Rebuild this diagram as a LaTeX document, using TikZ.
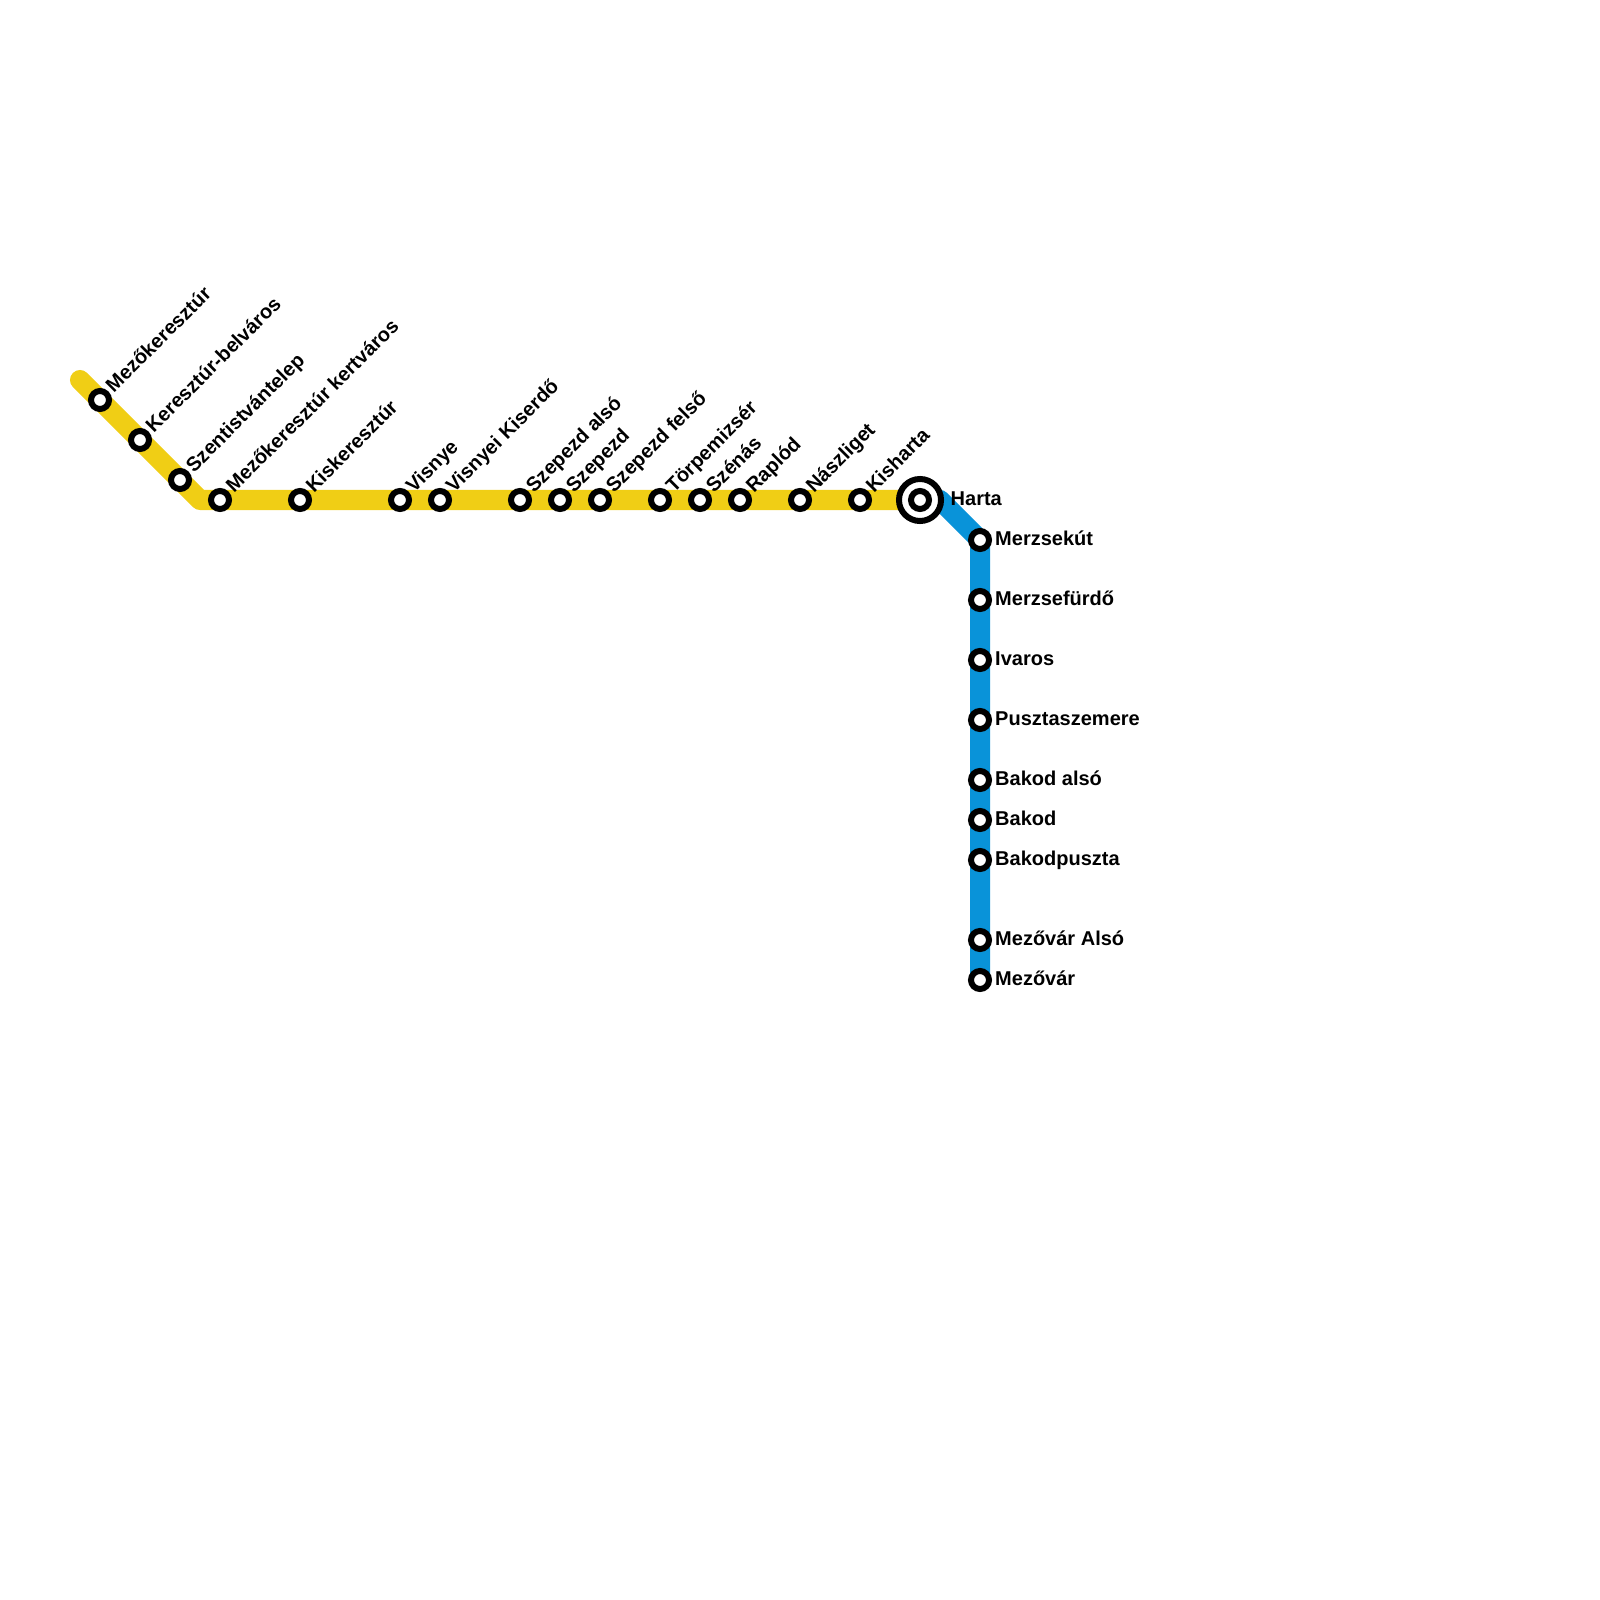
\documentclass[tikz,border=0pt]{standalone}
\usepackage{fontspec}
\setmainfont{Liberation Sans}
\usepackage{tikz}
\usetikzlibrary{backgrounds}
\definecolor{lineyellow}{RGB}{240,206,21}
\definecolor{lineblue}{RGB}{9,147,217}
\tikzset{
  stop/.style={circle, draw=black, fill=white, line width=0.06cm, minimum size=0.18cm, inner sep=0pt},
  hub/.style={circle, draw=black, fill=white, line width=0.06cm, minimum size=0.42cm, inner sep=0pt},
  tagup/.style={anchor=base west, rotate=45, inner sep=0pt, font=\fontsize{5.69pt}{7pt}\selectfont\bfseries},
  tagright/.style={anchor=base west, inner sep=0pt, font=\fontsize{5.69pt}{7pt}\selectfont\bfseries},
  linefill/.style={line width=0.2cm, line cap=round, line join=round},
}

\begin{document}
\begin{tikzpicture}[x=0.01cm, y=-0.01cm]
  \useasboundingbox (0,0) rectangle (1600,1600);
  % yellow stops
  \node[stop] (mezokeresztur) at (100,400) {};
  \node[stop] (belvaros) at (140,440) {};
  \node[stop] (telep) at (180,480) {};
  \node[stop] (kertvaros) at (220,500) {};
  \node[stop] (kiskeresztur) at (300,500) {};
  \node[stop] (visnye) at (400,500) {};
  \node[stop] (kiserdo) at (440,500) {};
  \node[stop] (szepezdalso) at (520,500) {};
  \node[stop] (szepezd) at (560,500) {};
  \node[stop] (szepezdfelso) at (600,500) {};
  \node[stop] (torpemizser) at (660,500) {};
  \node[stop] (szenas) at (700,500) {};
  \node[stop] (raplod) at (740,500) {};
  \node[stop] (naszliget) at (800,500) {};
  \node[stop] (kisharta) at (860,500) {};
  % interchange
  \node[hub] (harta) at (920,500) {};
  \node[stop] (hartain) at (920,500) {};
  % blue stops
  \node[stop] (merzsekut) at (980,540) {};
  \node[stop] (merzsefurdo) at (980,600) {};
  \node[stop] (ivaros) at (980,660) {};
  \node[stop] (pusztaszemere) at (980,720) {};
  \node[stop] (bakodalso) at (980,780) {};
  \node[stop] (bakod) at (980,820) {};
  \node[stop] (bakodpuszta) at (980,860) {};
  \node[stop] (mezovaralso) at (980,940) {};
  \node[stop] (mezovar) at (980,980) {};

  \coordinate (yellowend) at (80,380);
  \coordinate (yellowbend) at (200,500);
  \coordinate (bluebend) at (940,500);
  \begin{scope}[on background layer]
    \draw[lineyellow, linefill] (yellowend) -- (yellowbend) -- (harta.center);
    \draw[lineblue, linefill] (harta.center) -- (bluebend) -- (merzsekut.center) -- (mezovar.center);
  \end{scope}

  \node[tagup] (t1) at (113.5,394) {Mezőkeresztúr};
  \node[tagup] (t2) at (153.5,434) {Keresztúr-belváros};
  \node[tagup] (t3) at (193.5,474) {Szentistvántelep};
  \node[tagup] (t4) at (233.5,494) {Mezőkeresztúr kertváros};
  \node[tagup] (t5) at (313.5,494) {Kiskeresztúr};
  \node[tagup] (t6) at (413.5,494) {Visnye};
  \node[tagup] (t7) at (453.5,494) {Visnyei Kiserdő};
  \node[tagup] (t8) at (533.5,494) {Szepezd alsó};
  \node[tagup] (t9) at (573.5,494) {Szepezd};
  \node[tagup] (t10) at (613.5,494) {Szepezd felső};
  \node[tagup] (t11) at (673.5,494) {Törpemizsér};
  \node[tagup] (t12) at (713.5,494) {Szénás};
  \node[tagup] (t13) at (753.5,494) {Raplód};
  \node[tagup] (t14) at (813.5,494) {Nászliget};
  \node[tagup] (t15) at (873.5,494) {Kisharta};

  \node[tagright] (t16) at (950,505) {Harta};
  \node[tagright] (t17) at (994.5,545) {Merzsekút};
  \node[tagright] (t18) at (994.5,605) {Merzsefürdő};
  \node[tagright] (t19) at (994.5,665) {Ivaros};
  \node[tagright] (t20) at (994.5,725) {Pusztaszemere};
  \node[tagright] (t21) at (994.5,785) {Bakod alsó};
  \node[tagright] (t22) at (994.5,825) {Bakod};
  \node[tagright] (t23) at (994.5,865) {Bakodpuszta};
  \node[tagright] (t24) at (994.5,945) {Mezővár Alsó};
  \node[tagright] (t25) at (994.5,985) {Mezővár};
\end{tikzpicture}
\end{document}
